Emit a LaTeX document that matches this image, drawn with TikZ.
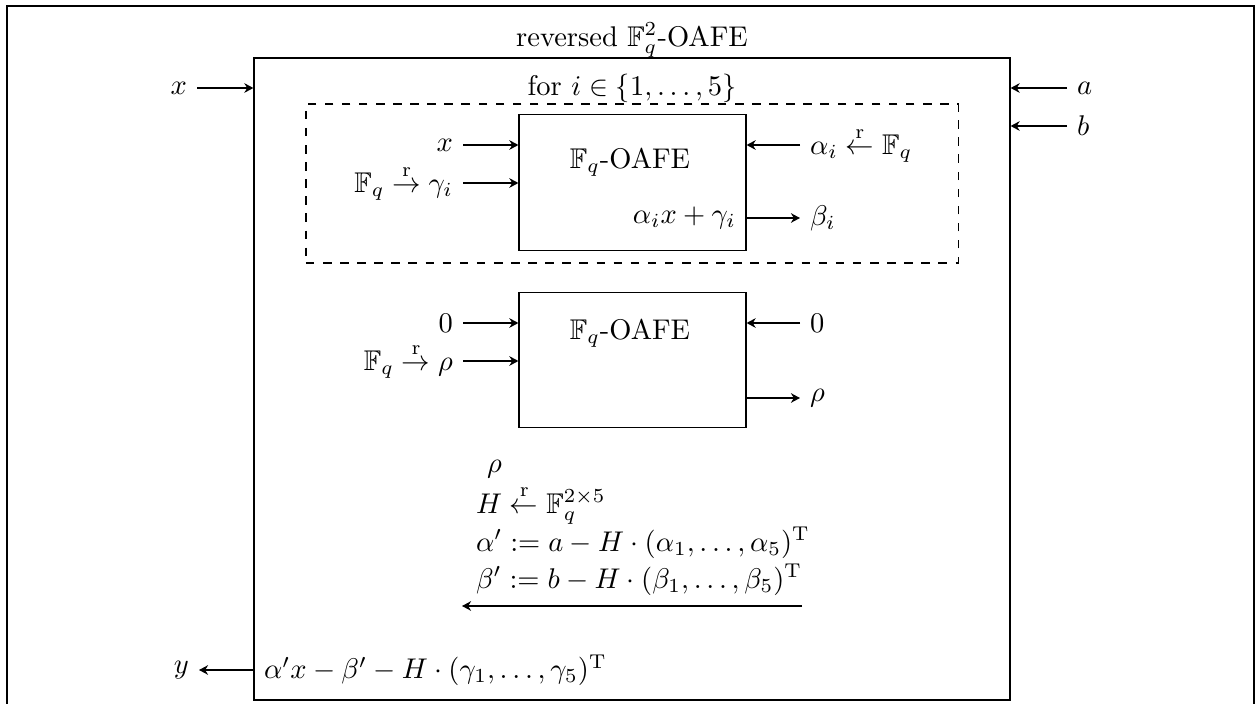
\documentclass[tikz,border=0pt]{standalone}
\usepackage{tikz}
\usetikzlibrary{arrows.meta}
\usetikzlibrary{positioning}
\usepackage{amsmath, amssymb}

\begin{document}
\begin{tikzpicture}[
        x=0.351pt, y=-0.351pt,
        every node/.style={inner ysep=0.5pt},
        oafe/.style={rectangle, draw, minimum width=79.7pt,
          minimum height=47.5pt, inner sep=0pt},
        stmt/.style={anchor=base west},
        arrow/.style={-{Stealth[length=3.2pt, width=3.4pt]}},
      ]
        \useasboundingbox (0,0) rectangle (1258,704);
        % outer frame, open at the bottom
        \draw (7,720) -- (7,6) -- (1254,6) -- (1254,720);

        % reversed protocol
        \node[rectangle, draw, minimum width=265.4pt, minimum height=225.3pt,
          inner sep=0pt] (rev) at (632,379) {};
        \node (title) at (632,40) {reversed $\mathbb{F}_q^2$-OAFE};
        \node (loop) at (632,88) {for $i \in \{1,\dots,5\}$};

        \node[anchor=east] (xin) at (197,88) {$x$};
        \node[anchor=west] (ain) at (1067,88) {$a$};
        \node[anchor=west] (bin) at (1067,126) {$b$};
        \draw[arrow] (xin.east) -- (xin.east -| rev.west);
        \draw[arrow] (ain.west) -- (ain.west -| rev.east);
        \draw[arrow] (bin.west) -- (bin.west -| rev.east);

        % loop body
        \node[rectangle, draw, dashed, minimum width=228.9pt,
          minimum height=55.8pt, inner sep=0pt] (body) at (632,183.5) {};
        \node[oafe] (box1) at (632.5,182.5) {};
        \node (t1) at (630,162) {$\mathbb{F}_q$-OAFE};
        \node[anchor=east] (x1) at (463,145) {$x$};
        \node[anchor=east] (g1) at (463,183) {$\mathbb{F}_q \overset{\mathrm{r}}{\to} \gamma_i$};
        \node[anchor=west] (al1) at (800,145) {$\alpha_i \overset{\mathrm{r}}{\leftarrow} \mathbb{F}_q$};
        \node[anchor=east] (o1) at (746,218) {$\alpha_i x + \gamma_i$};
        \node[anchor=west] (be1) at (800,218) {$\beta_i$};
        \draw[arrow] (x1.east) -- (x1.east -| box1.west);
        \draw[arrow] (g1.east) -- (g1.east -| box1.west);
        \draw[arrow] (al1.west) -- (al1.west -| box1.east);
        \draw[arrow] (o1.east) -- (be1.west);

        % second OAFE
        \node[oafe] (box2) at (632.5,360) {};
        \node (t2) at (630,333) {$\mathbb{F}_q$-OAFE};
        \node[anchor=east] (z2) at (463,323) {$0$};
        \node[anchor=east] (r2) at (463,361) {$\mathbb{F}_q \overset{\mathrm{r}}{\to} \rho$};
        \node[anchor=west] (zr2) at (800,323) {$0$};
        \node[anchor=west] (ro2) at (800,398) {$\rho$};
        \draw[arrow] (z2.east) -- (z2.east -| box2.west);
        \draw[arrow] (r2.east) -- (r2.east -| box2.west);
        \draw[arrow] (zr2.west) -- (zr2.west -| box2.east);
        \draw[arrow] (ro2.west -| box2.east) -- (ro2.west);

        % local computation
        \node[stmt] (s0) at (477,472) {$\rho$};
        \node[stmt] (s1) at (466,513) {$H \overset{\mathrm{r}}{\leftarrow} \mathbb{F}_q^{2\times 5}$};
        \node[stmt] (s2) at (466,551) {$\alpha' := a - H \cdot (\alpha_1,\dots,\alpha_5)^{\mathrm{T}}$};
        \node[stmt] (s3) at (466,588) {$\beta' := b - H \cdot (\beta_1,\dots,\beta_5)^{\mathrm{T}}$};
        \coordinate (fbR) at (802,606);
        \coordinate (fbL) at (462,606);
        \draw[arrow] (fbR) -- (fbL);

        % output
        \node[anchor=west] (res) at (254,670) {$\alpha' x - \beta' - H \cdot (\gamma_1,\dots,\gamma_5)^{\mathrm{T}}$};
        \node[anchor=east] (yout) at (199,670) {$y$};
        \draw[arrow] (res.west) -- (yout.east);
      \end{tikzpicture}
\end{document}
